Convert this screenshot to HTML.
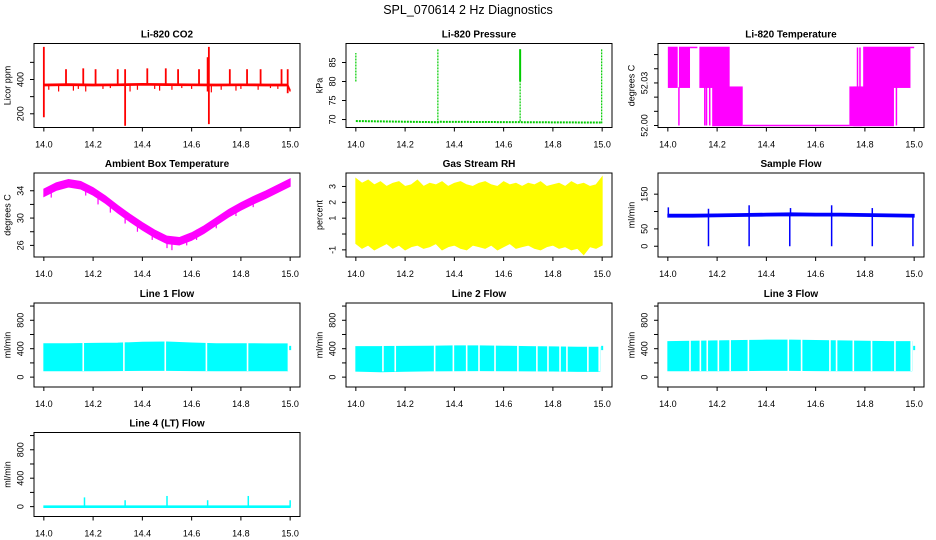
<!DOCTYPE html>
<html><head><meta charset="utf-8"><title>SPL_070614 2 Hz Diagnostics</title>
<style>html,body{margin:0;padding:0;background:#fff}svg{display:block}text{font-family:"Liberation Sans",Arial,sans-serif}</style>
</head><body>
<svg id="fig" width="936" height="540" viewBox="0 0 936 540" xmlns="http://www.w3.org/2000/svg">
<rect width="936" height="540" fill="#fff"/>
<text x="468" y="14" font-size="12.5" text-anchor="middle">SPL_070614  2 Hz Diagnostics</text>
</svg>
<script>
// ---------- data ----------
const xTicks=[14.0,14.2,14.4,14.6,14.8,15.0];
const xTickLabels=["14.0","14.2","14.4","14.6","14.8","15.0"];

const co2BaseX=[14.0,14.1,14.2,14.3,14.4,14.5,14.6,14.7,14.8,14.9,14.99,15.0];
const co2Base=[368,370,368,369,372,370,369,368,369,368,368,335];
const co2SpikeX=[14.0,14.09,14.16,14.21,14.30,14.33,14.42,14.495,14.545,14.63,14.665,14.67,14.755,14.825,14.88,14.965,14.99];
const co2SpikeHi=[590,460,465,460,460,460,465,465,460,460,530,590,460,460,460,460,460];
const co2SpikeLo=[180,370,370,370,370,130,370,370,370,370,330,140,370,370,370,370,320];
const co2DipX=[14.02,14.06,14.12,14.14,14.17,14.24,14.27,14.35,14.38,14.45,14.47,14.52,14.56,14.6,14.68,14.72,14.78,14.8,14.87,14.92,14.95];
const co2DipLo=[340,330,335,345,330,345,350,330,340,345,335,340,350,345,325,340,335,345,340,350,345];

const presBaseX=[14.0,14.33,14.34,15.0];
const presBase=[69.6,69.3,69.4,69.2];
const presSpikeX=[14.0,14.333,14.667,14.998];
const presSpikeLo=[80,69,69.5,69];
const presSpikeHi=[87.5,88.5,88.5,88.5];

const tmpX0=[14.0,14.045,14.09,14.128,14.18,14.304,14.737,14.793,14.753,14.985];
const tmpX1=[14.04,14.09,14.12,14.251,14.304,14.737,14.787,14.985,14.918,15.0];
const tmpLo=[52.027,52.027,52.055,52.027,52.0,52.0,52.0,52.027,52.0,52.055];
const tmpHi=[52.055,52.055,52.055,52.055,52.027,52.0,52.027,52.055,52.027,52.055];
const tmpLineX=[14.045,14.15,14.157,14.17,14.77,14.78,14.928];
const tmpLineLo=[52.0,52.0,52.0,52.0,52.027,52.027,52.0];
const tmpLineHi=[52.027,52.027,52.027,52.027,52.055,52.055,52.027];

const ambX=[14.0,14.05,14.1,14.15,14.2,14.25,14.3,14.35,14.4,14.45,14.5,14.55,14.6,14.65,14.7,14.75,14.8,14.85,14.9,14.95,15.0];
const ambMid=[33.7,34.6,35.1,34.8,33.9,32.7,31.3,30.0,28.8,27.7,26.8,26.6,27.3,28.3,29.5,30.7,31.7,32.6,33.4,34.3,35.2];
const ambSpikeX=[14.03,14.17,14.22,14.27,14.33,14.38,14.44,14.5,14.52,14.58,14.62,14.7,14.78,14.85];
const ambSpikeLo=[33.0,33.3,32.0,30.8,29.2,28.0,26.8,25.6,25.3,26.0,26.8,28.5,30.3,31.6];

const rhX=[14.0,14.025,14.05,14.075,14.1,14.125,14.15,14.175,14.2,14.225,14.25,14.275,14.3,14.325,14.35,14.375,14.4,14.425,14.45,14.475,14.5,14.525,14.55,14.575,14.6,14.625,14.65,14.675,14.7,14.725,14.75,14.775,14.8,14.825,14.85,14.875,14.9,14.925,14.95,14.975,15.0];
const rhHi=[3.5,3.2,3.4,3.1,3.3,3.0,3.2,3.3,3.0,3.1,3.4,3.0,3.2,3.1,3.3,3.0,3.2,3.3,3.1,3.0,3.2,3.3,3.1,3.0,3.3,3.1,3.2,3.0,3.2,3.1,3.3,3.0,3.1,3.2,3.0,3.3,3.1,3.2,3.0,3.1,3.6];
const rhLo=[-0.6,-0.9,-0.7,-1.0,-0.8,-0.6,-0.9,-0.7,-1.0,-0.8,-0.7,-0.9,-0.8,-0.6,-1.0,-0.8,-0.7,-0.9,-1.0,-0.7,-0.8,-0.9,-0.7,-1.0,-0.8,-0.6,-0.9,-0.8,-0.7,-0.9,-1.0,-0.8,-0.7,-0.9,-0.8,-1.0,-0.9,-1.3,-0.8,-0.9,-0.7];

const sfX=[14.0,14.1,14.2,14.3,14.4,14.5,14.6,14.7,14.8,14.9,15.0];
const sfMid=[88,88,89,90,91,92,91,91,90,89,88];
const sfDipX=[14.165,14.33,14.495,14.665,14.83,14.995];
const sfDipLo=[0,0,0,0,0,0];
const sfSpikeX=[14.002,14.165,14.33,14.498,14.665,14.83];
const sfSpikeHi=[112,108,118,110,118,110];

const flowX=[14.0,14.1,14.2,14.3,14.4,14.5,14.6,14.7,14.8,14.9,14.99];
const line1Hi=[470,470,475,478,490,495,480,470,470,468,468];
const line1Lo=[90,90,90,92,95,95,92,90,90,90,90];
const line1Gaps=[14.16,14.325,14.493,14.66,14.827,14.993];
const line2Hi=[430,430,432,435,440,440,435,430,425,420,420];
const line2Lo=[85,75,82,88,90,92,90,88,86,80,80];
const line2Gaps=[14.11,14.16,14.32,14.396,14.45,14.5,14.565,14.658,14.735,14.78,14.829,14.857,14.942,14.988];
const line3Hi=[500,505,510,515,520,520,515,510,505,500,500];
const line3Lo=[90,90,90,92,95,95,92,90,90,90,90];
const line3Gaps=[14.09,14.132,14.16,14.205,14.253,14.327,14.489,14.543,14.658,14.685,14.753,14.827,14.922,14.988];
const line4SpikeX=[14.165,14.33,14.5,14.665,14.83,15.0];
const line4SpikeHi=[130,90,150,90,150,90];

// ---------- layout ----------
const svg=document.getElementById('fig');
const NS='http://www.w3.org/2000/svg';
const colL=[34,346,658], rowT=[43.5,173,303,432.5], PW=266, PH=84;
function el(tag,attrs,parent){const e=document.createElementNS(NS,tag);for(const k in attrs)e.setAttribute(k,attrs[k]);(parent||svg).appendChild(e);return e;}

function panel(name,c,r,title,ylab,ymin,ymax,yt,ytl){
  const L=colL[c],T=rowT[r],B=T+PH,R=L+PW;
  const g=el('g',{});
  
  
  const xs=v=>L+PW*0.037+(v-14)*(PW*0.926);
  const ys=v=>B-(v-ymin)/(ymax-ymin)*PH;
  const clip=el('clipPath',{id:'clip-'+name},g);
  el('rect',{x:L,y:T,width:PW,height:PH},clip);
  const plot=el('g',{'clip-path':'url(#clip-'+name+')'},g);
  
  
  const t=el('text',{x:L+PW/2,y:T-6,'font-size':'10','font-weight':'bold','text-anchor':'middle'},g);
  
  
  t.textContent=title;
  const yl=el('text',{x:0,y:0,'font-size':'9','text-anchor':'middle',transform:`translate(${L-23.5},${(T+B)/2}) rotate(-90)`},g);
  
  
  yl.textContent=ylab;
  // x axis
  const xa=el('g',{},g);
  
  
  xTicks.forEach((v,i)=>{
    el('line',{x1:xs(v),x2:xs(v),y1:B,y2:B+4,stroke:'#000','stroke-width':1},xa);
    const tl=el('text',{x:xs(v),y:B+20,'font-size':'9','text-anchor':'middle'},xa);
    
    
    tl.textContent=xTickLabels[i];
  });
  const ya=el('g',{},g);
  
  
  yt.forEach((v,i)=>{
    el('line',{x1:L-4,x2:L,y1:ys(v),y2:ys(v),stroke:'#000','stroke-width':1},ya);
    if(ytl[i]){
      const tl=el('text',{x:0,y:0,'font-size':'9','text-anchor':'middle',transform:`translate(${L-10.5},${ys(v)}) rotate(-90)`},ya);
      
      
      tl.textContent=ytl[i];
    }
  });
  const box=el('rect',{x:L,y:T,width:PW,height:PH,fill:'none',stroke:'#000','stroke-width':1},g);
  
  
  return {xs,ys,plot};
}
function vline(p,x,y1,y2,col,w,nm){const l=el('line',{x1:p.xs(x),x2:p.xs(x),y1:p.ys(y1),y2:p.ys(y2),stroke:col,'stroke-width':w||1.5},p.plot);
  
  return l;}
function band(p,xa,hi,lo,col,nm){
  let d='M'+xa.map((x,i)=>p.xs(x)+','+p.ys(hi[i])).join('L');
  d+='L'+xa.map((x,i)=>p.xs(x)+','+p.ys(lo[i])).reverse().join('L')+'Z';
  const e=el('path',{d:d,fill:col,stroke:col,'stroke-width':1},p.plot);
  
  return e;}

// CO2
let p=panel('co2',0,0,'Li-820 CO2','Licor ppm',120,610,[200,300,400,500],['200','','400','']);
band(p,co2BaseX,co2Base.map(v=>v+5),co2Base.map(v=>v-5),'#ff0000','co2-series');
co2SpikeX.forEach((x,i)=>vline(p,x,co2SpikeLo[i],co2SpikeHi[i],'#ff0000',1.8,'co2-spike'));
co2DipX.forEach((x,i)=>vline(p,x,co2DipLo[i],368,'#ff0000',1.2,'co2-dip'));

// Pressure
p=panel('pressure',1,0,'Li-820 Pressure','kPa',67.9,90,[70,75,80,85],['70','75','80','85']);
{const l=el('polyline',{points:presBaseX.map((x,i)=>p.xs(x)+','+p.ys(presBase[i])).join(' '),fill:'none',stroke:'#00cc00','stroke-width':2,'stroke-dasharray':'2 1'},p.plot);

}
presSpikeX.forEach((x,i)=>{const s=vline(p,x,presSpikeLo[i],presSpikeHi[i],'#00cc00',1.2,'pressure-spike');s.setAttribute('stroke-dasharray','2 1');});
vline(p,14.667,80,88.5,'#00cc00',2,'pressure-spike');

// Li-820 temperature
p=panel('li820-temp',2,0,'Li-820 Temperature','degrees C',51.9986,52.0578,[52.0,52.01,52.02,52.03,52.04,52.05],['52.00','','','52.03','','']);
tmpX0.forEach((x,i)=>{const r=el('rect',{x:p.xs(x),y:p.ys(tmpHi[i])-0.75,width:p.xs(tmpX1[i])-p.xs(x),height:p.ys(tmpLo[i])-p.ys(tmpHi[i])+1.5,fill:'#ff00ff'},p.plot);

});
tmpLineX.forEach((x,i)=>vline(p,x,tmpLineLo[i],tmpLineHi[i],'#ff00ff',1.5,'li820-temp-step'));

// Ambient temperature
p=panel('ambient-temp',0,1,'Ambient Box Temperature','degrees C',24.3,36.6,[26,28,30,32,34],['26','','30','','34']);
band(p,ambX,ambMid.map(v=>v+0.55),ambMid.map(v=>v-0.55),'#ff00ff','ambient-temp-series');
ambSpikeX.forEach((x,i)=>vline(p,x,ambSpikeLo[i],ambSpikeLo[i]+1.5,'#ff00ff',1.2,'ambient-temp-spike'));

// RH
p=panel('gas-rh',1,1,'Gas Stream RH','percent',-1.45,3.85,[-1,0,1,2,3],['-1','','1','2','3']);
band(p,rhX,rhHi,rhLo,'#ffff00','gas-rh-series');

// Sample flow
p=panel('sample-flow',2,1,'Sample Flow','ml/min',-31,211,[0,50,100,150],['0','50','','150']);
band(p,sfX,sfMid.map(v=>v+4),sfMid.map(v=>v-4),'#0000ff','sample-flow-series');
sfDipX.forEach((x,i)=>vline(p,x,sfDipLo[i],88,'#0000ff',1.5,'sample-flow-dip'));
sfSpikeX.forEach((x,i)=>vline(p,x,88,sfSpikeHi[i],'#0000ff',1.5,'sample-flow-spike'));

// Line flows
const fT=[0,200,400,600,800,1000], fL=['0','','400','','800',''];
function flowPanel(name,c,r,title,hi,lo,gaps){
  const q=panel(name,c,r,title,'ml/min',-139,1043,fT,fL);
  band(q,flowX,hi,lo,'#00ffff',name+'-series');
  gaps.forEach(x=>{const l=vline(q,x,lo[0]-5,hi[0]+40,'#ffffff',1.6,name+'-gap');});
  vline(q,15.0,380,440,'#00ffff',2,name+'-end');
  return q;
}
flowPanel('line1-flow',0,2,'Line 1 Flow',line1Hi,line1Lo,line1Gaps);
flowPanel('line2-flow',1,2,'Line 2 Flow',line2Hi,line2Lo,line2Gaps);
flowPanel('line3-flow',2,2,'Line 3 Flow',line3Hi,line3Lo,line3Gaps);
p=panel('line4-flow',0,3,'Line 4 (LT) Flow','ml/min',-139,1043,fT,fL);
band(p,[14.0,15.0],[10,10],[-12,-12],'#00ffff','line4-flow-series');
line4SpikeX.forEach((x,i)=>vline(p,x,0,line4SpikeHi[i],'#00ffff',1.5,'line4-flow-spike'));
</script>
</body></html>
